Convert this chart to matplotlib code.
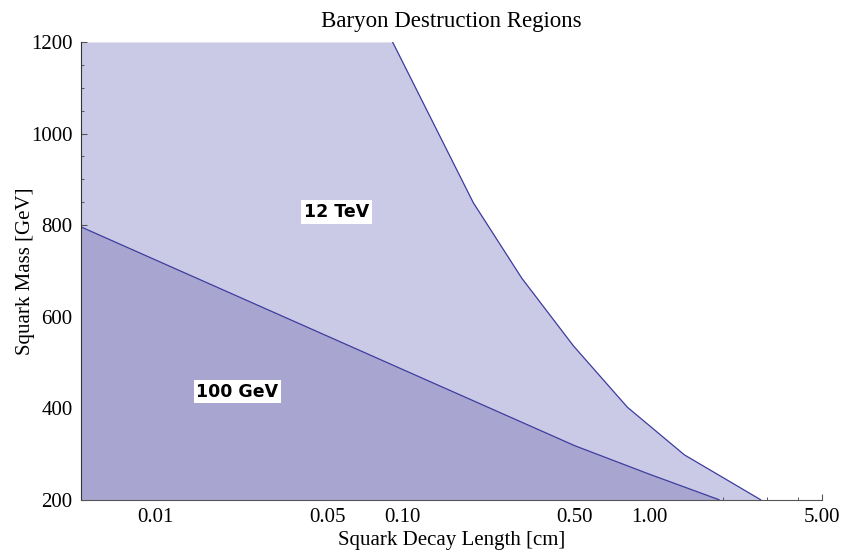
import matplotlib
matplotlib.use("Agg")
import matplotlib.pyplot as plt
from matplotlib.ticker import FixedLocator, NullFormatter

# 12 TeV boundary (decay length in cm, squark mass in GeV)
tev_length = [0.0914, 0.194, 0.305, 0.494, 0.817, 1.39, 2.83]
tev_mass = [1200, 849, 684, 536, 402, 298, 200]

# 100 GeV boundary
gev_length = [0.005, 0.01, 0.1, 0.5, 1.0, 1.92]
gev_mass = [796, 724, 485, 318, 256, 200]

x_ticks = [0.01, 0.05, 0.1, 0.5, 1.0, 5.0]
x_tick_labels = ["0.01", "0.05", "0.10", "0.50", "1.00", "5.00"]
x_minor = [0.006, 0.007, 0.008, 0.009, 0.02, 0.03, 0.04, 0.06, 0.07, 0.08, 0.09,
           0.2, 0.3, 0.4, 0.6, 0.7, 0.8, 0.9, 2, 3, 4]
y_ticks = [200, 400, 600, 800, 1000, 1200]

plt.rcParams["font.family"] = ["Liberation Serif", "DejaVu Serif"]

LIGHT = "#cbcae6"
DARK = "#a8a6d0"
LINE = "#3c3c9e"
AXC = "#555555"

fig = plt.figure(figsize=(8.41, 5.52), dpi=100)
ax = fig.add_axes([0.0963, 0.0947, 0.977 - 0.0963, 0.924 - 0.0947])
ax.set_xscale("log")
ax.set_xlim(0.005, 5.0)
ax.set_ylim(200, 1200)

x0 = ax.get_xlim()[0]
y0 = ax.get_ylim()[0]

ax.fill_betweenx(tev_mass, x0, tev_length, color=LIGHT, lw=0, zorder=1)
ax.fill_between(gev_length, y0, gev_mass, color=DARK, lw=0, zorder=2)
ax.plot(tev_length, tev_mass, color=LINE, lw=0.9, zorder=3)
ax.plot(gev_length, gev_mass, color=LINE, lw=0.9, zorder=3)

ax.xaxis.set_major_locator(FixedLocator(x_ticks))
ax.set_xticklabels(x_tick_labels)
ax.xaxis.set_minor_locator(FixedLocator(x_minor))
ax.xaxis.set_minor_formatter(NullFormatter())
ax.set_yticks(y_ticks)
ax.set_yticks([v for v in range(250, 1200, 50) if v % 200 != 0], minor=True)

ax.tick_params(which="both", direction="in", color=AXC, labelsize=15, pad=6)
ax.tick_params(which="major", length=4.5, width=0.8)
ax.tick_params(which="minor", length=2.5, width=0.7)

for s in ["top", "right"]:
    ax.spines[s].set_visible(False)
ax.spines["left"].set_color("#333333")
ax.spines["bottom"].set_color(AXC)
ax.spines["left"].set_zorder(5)
ax.spines["bottom"].set_zorder(5)

ax.set_title("Baryon Destruction Regions", fontsize=16.5, pad=11)
ax.set_xlabel("Squark Decay Length [cm]", fontsize=15, labelpad=3)
ax.set_ylabel("Squark Mass [GeV]", fontsize=15, labelpad=-3)

box = dict(facecolor="white", edgecolor="none", pad=2)
ax.text(0.054, 829, "12 TeV", fontsize=12.5, fontweight="bold", family="DejaVu Sans",
        ha="center", va="center", bbox=box, zorder=6)
ax.text(0.0215, 436, "100 GeV", fontsize=12.5, fontweight="bold", family="DejaVu Sans",
        ha="center", va="center", bbox=box, zorder=6)

fig.savefig("out.png", dpi=100)
